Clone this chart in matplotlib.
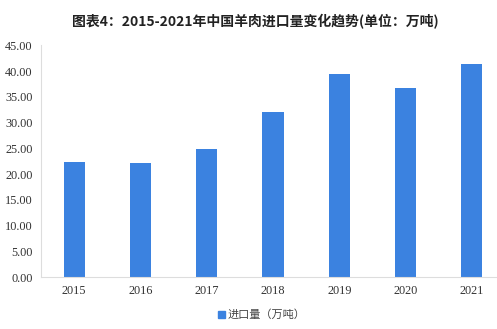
import matplotlib
matplotlib.use("Agg")
import matplotlib.pyplot as plt
from matplotlib.patches import Patch

years = ["2015", "2016", "2017", "2018", "2019", "2020", "2021"]
imports = [22.27, 22.08, 24.85, 32.04, 39.40, 36.76, 41.36]
yticks = [0, 5, 10, 15, 20, 25, 30, 35, 40, 45]
title = "图表4：2015-2021年中国羊肉进口量变化趋势(单位：万吨)"
legend_label = "进口量（万吨）"

plt.rcParams['font.family'] = ['Noto Sans CJK SC', 'DejaVu Sans']

fig = plt.figure(figsize=(4.97, 3.29), dpi=100)
ax = fig.add_axes([0.0825, 0.158, 0.9175, 0.704])
color = "#3b82e0"
x = list(range(len(years)))
ax.bar(x, imports, width=0.32, color=color)
ax.set_xlim(-0.5, 6.38)
ax.set_ylim(0, 45)
ax.set_yticks(yticks)
ax.set_yticklabels([f"{v:.2f}" for v in yticks], family="Liberation Serif", fontsize=8.8, color="#333333")
ax.set_xticks(x)
ax.set_xticklabels(years, family="Liberation Serif", fontsize=8.8, color="#333333")
for s in ["top", "right"]:
    ax.spines[s].set_visible(False)
ax.spines["left"].set_color("#dddddd")
ax.spines["bottom"].set_color("#dddddd")
ax.tick_params(axis="both", length=0, pad=6)

fig.text(0.513, 0.935, title, ha="center", va="center", fontsize=10, fontweight="bold", color="#222222")
fig.legend(handles=[Patch(color=color, label=legend_label)], loc="center", bbox_to_anchor=(0.527, 0.043),
           frameon=False, fontsize=8, handlelength=0.6, handleheight=0.6, handletextpad=0.3,
           labelcolor="#444444")
fig.savefig("out.png", dpi=100, facecolor="white")
